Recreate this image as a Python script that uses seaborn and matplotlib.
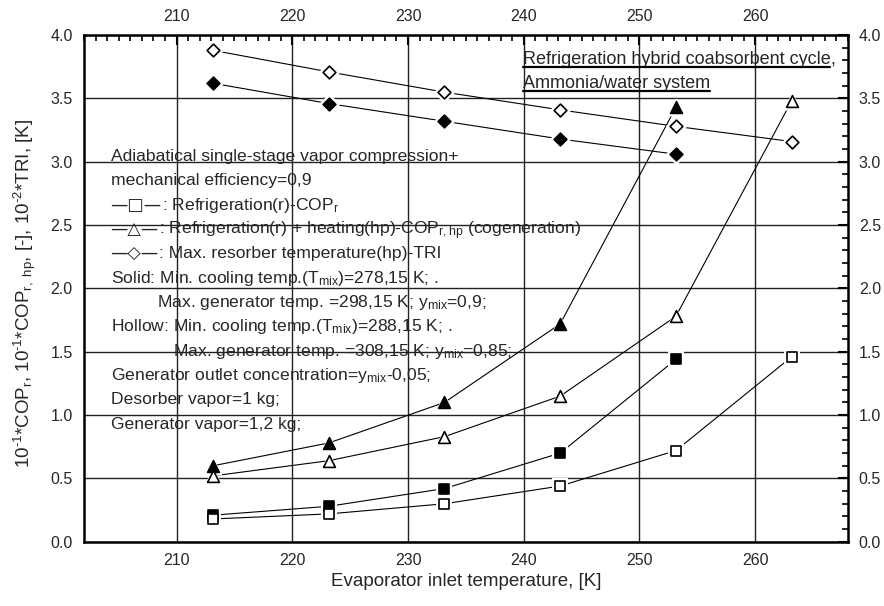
import numpy as np
import pandas as pd
import seaborn as sns
import matplotlib.pyplot as plt
from matplotlib.ticker import MultipleLocator, FormatStrFormatter

# evaporator inlet temperature, K
temps = [213.15, 223.15, 233.15, 243.15, 253.15, 263.15]

# solid = Tmix 278,15 K ; hollow = Tmix 288,15 K
cop_r_solid = [0.21, 0.28, 0.42, 0.70, 1.44]
cop_r_hollow = [0.18, 0.22, 0.30, 0.44, 0.72, 1.46]
cop_rhp_solid = [0.60, 0.78, 1.10, 1.72, 3.43]
cop_rhp_hollow = [0.52, 0.64, 0.83, 1.15, 1.78, 3.48]
tri_solid = [3.62, 3.46, 3.32, 3.18, 3.06]
tri_hollow = [3.88, 3.71, 3.55, 3.41, 3.28, 3.16]

xticks = [210, 220, 230, 240, 250, 260]

# (symbol prefix, text)
note_lines = [
    ("", "Adiabatical single-stage vapor compression+"),
    ("", "mechanical efficiency=0,9"),
    ("\u2014\u25a1\u2014", ": Refrigeration(r)-COP$_{r}$"),
    ("\u2014\u25b3\u2014", ": Refrigeration(r) + heating(hp)-COP$_{r,hp}$ (cogeneration)"),
    ("\u2014\u25c7\u2014", ": Max. resorber temperature(hp)-TRI"),
    ("", "Solid: Min. cooling temp.(T$_{mix}$)=278,15 K; ."),
    ("", "Max. generator temp. =298,15 K; y$_{mix}$=0,9;"),
    ("", "Hollow: Min. cooling temp.(T$_{mix}$)=288,15 K; ."),
    ("", "Max. generator temp. =308,15 K; y$_{mix}$=0,85;"),
    ("", "Generator outlet concentration=y$_{mix}$-0,05;"),
    ("", "Desorber vapor=1 kg;"),
    ("", "Generator vapor=1,2 kg;"),
]
note_x = [204.3, 204.3, 204.3, 204.3, 204.3, 204.3, 208.3, 204.3, 209.7, 204.3, 204.3, 204.3]

series = [
    # name, values, marker, filled, size
    ("cop_r_s", cop_r_solid, "s", True, 6.5),
    ("cop_r_h", cop_r_hollow, "s", False, 6.5),
    ("cop_rhp_s", cop_rhp_solid, "^", True, 8.5),
    ("cop_rhp_h", cop_rhp_hollow, "^", False, 8.5),
    ("tri_s", tri_solid, "D", True, 6.5),
    ("tri_h", tri_hollow, "D", False, 6.5),
]

sns.set_style("white")
plt.rcParams['font.family'] = ['Liberation Sans', 'DejaVu Sans']
plt.rcParams['mathtext.fontset'] = 'custom'
plt.rcParams['mathtext.rm'] = 'Liberation Sans'
plt.rcParams['mathtext.it'] = 'Liberation Sans'
plt.rcParams['mathtext.default'] = 'regular'

fig, ax = plt.subplots(figsize=(8.84, 6.06), dpi=100)
fig.subplots_adjust(left=0.095, right=0.959, top=0.942, bottom=0.106)

frames = []
for name, vals, mk, filled, ms in series:
    frames.append(pd.DataFrame({"T": temps[:len(vals)], "v": vals, "s": name}))
df = pd.concat(frames, ignore_index=True)

# lines
for name, vals, mk, filled, ms in series:
    d = df[df.s == name]
    sns.lineplot(data=d, x="T", y="v", color="black", lw=0.8, ax=ax,
                 zorder=3, legend=False)
# white halo so lines stop short of the markers
for name, vals, mk, filled, ms in series:
    d = df[df.s == name]
    sns.scatterplot(data=d, x="T", y="v", marker=mk, s=(ms + 4.5) ** 2,
                    color="white", edgecolor="white", linewidth=0, ax=ax,
                    zorder=4, legend=False)
for name, vals, mk, filled, ms in series:
    d = df[df.s == name]
    sns.scatterplot(data=d, x="T", y="v", marker=mk, s=ms ** 2,
                    color="black" if filled else "white", edgecolor="black",
                    linewidth=1.2, ax=ax, zorder=5, legend=False)

ax.set_xlim(202, 268)
ax.set_ylim(0, 4)
ax.set_xticks(xticks)
ax.xaxis.set_minor_locator(MultipleLocator(1))
ax.yaxis.set_major_locator(MultipleLocator(0.5))
ax.yaxis.set_minor_locator(MultipleLocator(0.1))
ax.yaxis.set_major_formatter(FormatStrFormatter('%.1f'))
ax.grid(True, which='major', color='#222222', lw=1.0)
ax.set_axisbelow(True)
for sp in ax.spines.values():
    sp.set_linewidth(1.8)
    sp.set_color('black')
ax.tick_params(which='both', direction='in', top=True, right=True,
               labeltop=True, labelright=True, labelsize=11.5, color='black')
ax.tick_params(which='major', length=7, width=1.5, pad=8)
ax.tick_params(which='minor', length=4.5, width=1.2)

ax.set_xlabel("Evaporator inlet temperature, [K]", fontsize=13.5, labelpad=4)
ax.set_ylabel("10$^{\u2010 1}$*COP$_{r}$, 10$^{\u2010 1}$*COP$_{r,\\ hp}$, [-], 10$^{\u2010 2}$*TRI, [K]",
              fontsize=13.5, labelpad=10)
ax.yaxis.set_label_coords(-0.06, 0.49)

y0, step = 3.005, 0.192
fs = 12.6
prefixes = []
for i, ((pre, s), x) in enumerate(zip(note_lines, note_x)):
    y = y0 - i * step
    if pre:
        p = ax.text(x, y, pre, fontsize=12.5, family='DejaVu Sans',
                    ha='left', va='baseline', zorder=6)
        prefixes.append((p, s, y))
    else:
        ax.text(x, y, s, fontsize=fs, ha='left', va='baseline', zorder=6)

# underlined title, top right
t1 = ax.text(239.9, 3.77, "Refrigeration hybrid coabsorbent cycle", fontsize=13,
             ha='left', va='baseline', zorder=6)
t2 = ax.text(239.9, 3.58, "Ammonia/water system", fontsize=13,
             ha='left', va='baseline', zorder=6)
fig.canvas.draw()
inv_data = ax.transData.inverted()
for p, s, y in prefixes:
    bb = p.get_window_extent()
    xd, _ = inv_data.transform((bb.x1, bb.y0))
    ax.text(xd, y, s, fontsize=fs, ha='left', va='baseline', zorder=6)

bb1 = t1.get_window_extent()
xc, _ = inv_data.transform((bb1.x1, bb1.y0))
ax.text(xc, 3.77, ",", fontsize=13, ha='left', va='baseline', zorder=6)

inv = ax.transAxes.inverted()
for t in (t1, t2):
    bb = t.get_window_extent()
    (xa, ya), (xb, _) = inv.transform([(bb.x0, bb.y0 + 1), (bb.x1, bb.y0 + 1)])
    ax.plot([xa, xb], [ya, ya], color='black', lw=1.6, transform=ax.transAxes,
            zorder=6)

plt.savefig("out.png", dpi=100)
